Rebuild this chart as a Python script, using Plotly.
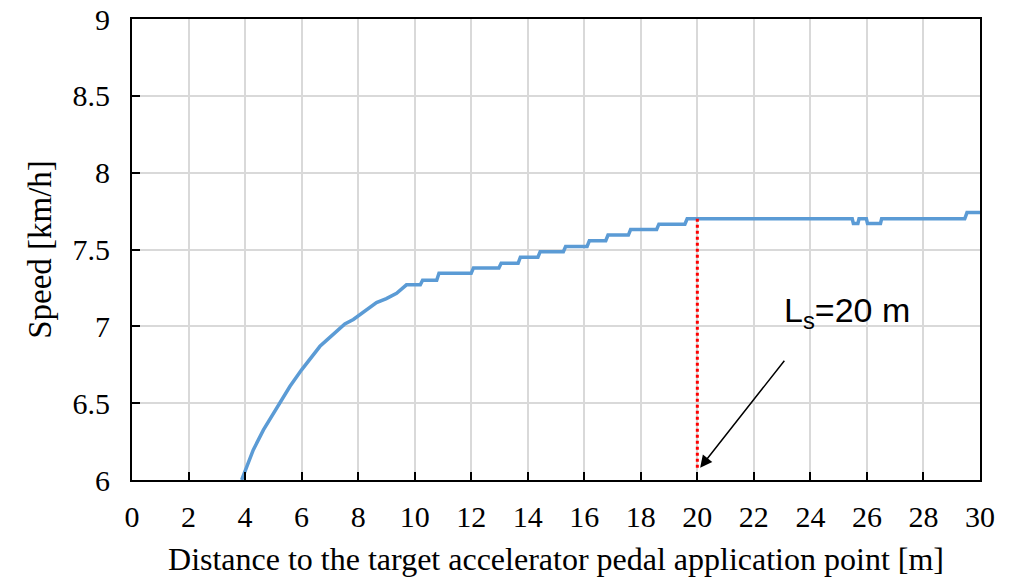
import plotly.graph_objects as go

# Distance to target accelerator pedal application point [m]
distance_m = [3.88, 4.29, 4.65, 5.00, 5.24, 5.59, 6.00, 6.35, 6.65, 6.89, 7.24, 7.53, 7.83, 8.30, 8.65, 9.00, 9.36, 9.71,
              10.20, 10.28, 10.78, 10.86, 12.00, 12.08, 12.98, 13.06, 13.66, 13.74, 14.36, 14.44, 15.26, 15.34,
              16.10, 16.18, 16.76, 16.84, 17.56, 17.64, 18.56, 18.64, 19.56, 19.64, 25.48, 25.52, 25.68, 25.72,
              25.98, 26.02, 26.48, 26.52, 29.46, 29.54, 30.0]
# Speed [km/h]
speed_kmh = [6.00, 6.196, 6.326, 6.435, 6.51, 6.61, 6.717, 6.80, 6.87, 6.91, 6.965, 7.015, 7.045, 7.107, 7.155, 7.18, 7.215, 7.27,
             7.27, 7.30, 7.30, 7.345, 7.345, 7.38, 7.38, 7.41, 7.41, 7.45, 7.45, 7.486, 7.486, 7.52,
             7.52, 7.557, 7.557, 7.594, 7.594, 7.63, 7.63, 7.665, 7.665, 7.70, 7.70, 7.67, 7.67, 7.70,
             7.70, 7.67, 7.67, 7.70, 7.70, 7.74, 7.74]

ls_distance = 20
ls_speed_range = [6.08, 7.70]
ls_label = "L<sub>s</sub>=20 m"

x_ticks = list(range(0, 31, 2))
y_ticks = [6, 6.5, 7, 7.5, 8, 8.5, 9]
y_tick_text = ["6", "6.5", "7", "7.5", "8", "8.5", "9"]

fig = go.Figure()
fig.add_trace(go.Scatter(
    x=distance_m, y=speed_kmh, mode="lines",
    line=dict(color="#5b9bd5", width=3.5),
    showlegend=False,
))

fig.add_shape(type="line", x0=ls_distance, x1=ls_distance,
              y0=ls_speed_range[0], y1=ls_speed_range[1],
              xref="x", yref="y",
              line=dict(color="#ff0000", width=3, dash="dot"))

fig.add_annotation(x=ls_distance + 0.1, y=6.08, ax=23.12, ay=6.786,
                   xref="x", yref="y", axref="x", ayref="y",
                   text="", showarrow=True, arrowhead=2, arrowsize=1.6,
                   arrowwidth=1.5, arrowcolor="black")
fig.add_annotation(x=25.3, y=7.09, xref="x", yref="y", text=ls_label,
                   showarrow=False,
                   font=dict(family="Liberation Sans, Arial", size=34, color="black"))

serif = "Liberation Serif, Times New Roman, serif"
axis_common = dict(
    showline=True, linecolor="black", linewidth=2, mirror=True,
    showgrid=True, gridcolor="#d9d9d9", gridwidth=1.5,
    ticks="inside", ticklen=8, tickwidth=1.5, tickcolor="black",
    tickfont=dict(family=serif, size=30, color="black"),
    zeroline=False, automargin=False,
)

fig.update_xaxes(range=[0, 30], tickmode="array", tickvals=x_ticks,
                 title=dict(text="Distance to the target accelerator pedal application point [m]",
                            font=dict(family=serif, size=32, color="black"),
                            standoff=16),
                 ticklabelstandoff=9, **axis_common)
fig.update_yaxes(range=[6, 9], tickmode="array", tickvals=y_ticks, ticktext=y_tick_text,
                 title=dict(text="Speed [km/h]",
                            font=dict(family=serif, size=33, color="black"),
                            standoff=11),
                 ticklabelstandoff=14, **axis_common)

fig.update_layout(
    width=1020, height=578,
    margin=dict(l=132, r=40, t=19, b=98, autoexpand=False),
    plot_bgcolor="white", paper_bgcolor="white",
)

fig.write_html("out.html", config={"displayModeBar": False},
               post_script="document.body.style.margin='0';document.body.style.overflow='hidden';")
